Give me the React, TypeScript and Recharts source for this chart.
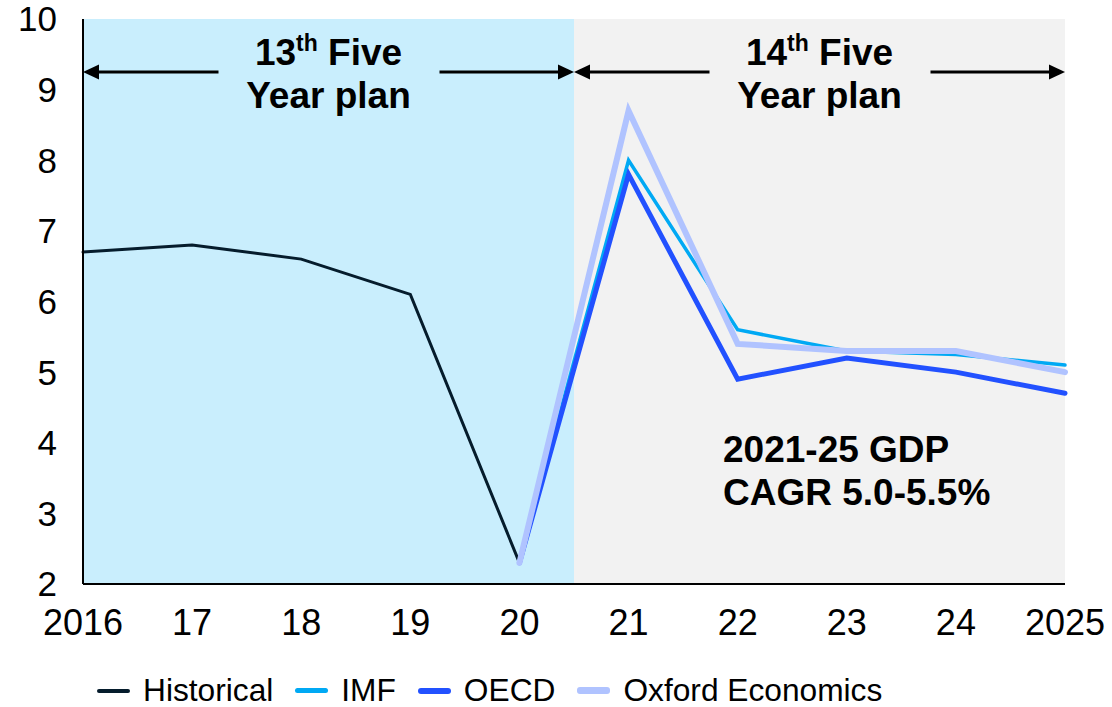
import React from 'react'
import { LineChart, Line, XAxis, YAxis, ReferenceArea, Legend } from 'recharts'

const FONT = '"Liberation Sans", Arial, sans-serif'

const years = [2016, 2017, 2018, 2019, 2020, 2021, 2022, 2023, 2024, 2025]
const yearLabels = ['2016', '17', '18', '19', '20', '21', '22', '23', '24', '2025']
const yTicks = [2, 3, 4, 5, 6, 7, 8, 9, 10]

// real GDP growth, %
const historical = [6.7, 6.8, 6.6, 6.1, 2.3, null, null, null, null, null]
const imf = [null, null, null, null, 2.3, 8.0, 5.6, 5.3, 5.25, 5.1]
const oecd = [null, null, null, null, 2.3, 7.8, 4.9, 5.2, 5.0, 4.7]
const oxford = [null, null, null, null, 2.3, 8.7, 5.4, 5.3, 5.3, 5.0]

// plan periods: 13th runs to mid-2020, 14th from there to 2025
const planBreak = 2020.5

const series = [
  { key: 'historical', name: 'Historical', color: '#051c2c', width: 3, swatch: 4 },
  { key: 'imf', name: 'IMF', color: '#00a9f4', width: 3.5, swatch: 5 },
  { key: 'oecd', name: 'OECD', color: '#2251ff', width: 5, swatch: 6 },
  { key: 'oxford', name: 'Oxford Economics', color: '#b0c3ff', width: 6, swatch: 7 },
]

const data = years.map((year, i) => ({
  year,
  historical: historical[i],
  imf: imf[i],
  oecd: oecd[i],
  oxford: oxford[i],
}))

function PlanLabel({ viewBox, ordinal, note }: any) {
  const { x, y, width } = viewBox
  const cx = x + width / 2
  const ay = y + 53
  const right = x + width
  const textProps = { fontFamily: FONT, fontWeight: 'bold', fontSize: 37, fill: '#000' }
  return (
    <g>
      <line x1={x + 12} y1={ay} x2={cx - 110} y2={ay} stroke="#000" strokeWidth={3} />
      <polygon points={`${x},${ay} ${x + 16},${ay - 7.5} ${x + 16},${ay + 7.5}`} fill="#000" />
      <line x1={cx + 111} y1={ay} x2={right - 12} y2={ay} stroke="#000" strokeWidth={3} />
      <polygon points={`${right},${ay} ${right - 16},${ay - 7.5} ${right - 16},${ay + 7.5}`} fill="#000" />
      <text x={cx} y={y + 46} textAnchor="middle" {...textProps}>
        <tspan>{ordinal}</tspan>
        <tspan fontSize={23} dy={-14}>th</tspan>
        <tspan dy={14}> Five</tspan>
      </text>
      <text x={cx} y={y + 89} textAnchor="middle" {...textProps}>Year plan</text>
      {note && note.map((line: string, i: number) => (
        <text key={line} x={x + 149} y={y + 443 + i * 43} textAnchor="start" {...textProps}>{line}</text>
      ))}
    </g>
  )
}

function SeriesLegend() {
  return (
    <div style={{ display: 'flex', alignItems: 'center', height: 63, boxSizing: 'border-box', paddingTop: 31, paddingLeft: 97 }}>
      {series.map((s) => (
        <div key={s.key} style={{ display: 'flex', alignItems: 'center', marginRight: 22 }}>
          <div style={{ width: 33, height: s.swatch, borderRadius: 3, background: s.color, marginRight: 13 }} />
          <span style={{ fontFamily: FONT, fontSize: 31.7, lineHeight: 1, color: '#000' }}>{s.name}</span>
        </div>
      ))}
    </div>
  )
}

export default function App() {
  return (
    <div style={{ position: 'absolute', top: 0, left: 0, width: 1112, height: 707, background: '#fff', fontFamily: FONT }}>
      <LineChart width={1112} height={707} data={data} margin={{ top: 19, right: 47, bottom: 0, left: 0 }}>
        <ReferenceArea
          x1={2016}
          x2={planBreak}
          y1={2}
          y2={10}
          fill="#c9eefd"
          fillOpacity={1}
          stroke="none"
          label={<PlanLabel ordinal="13" />}
        />
        <ReferenceArea
          x1={planBreak}
          x2={2025}
          y1={2}
          y2={10}
          fill="#f2f2f2"
          fillOpacity={1}
          stroke="none"
          label={<PlanLabel ordinal="14" note={['2021-25 GDP', 'CAGR 5.0-5.5%']} />}
        />
        <XAxis
          dataKey="year"
          type="number"
          domain={[2016, 2025]}
          ticks={years}
          tickFormatter={(v: number) => yearLabels[years.indexOf(v)]}
          height={60}
          tickLine={false}
          tickSize={0}
          tickMargin={25}
          axisLine={{ stroke: '#000', strokeWidth: 2 }}
          tick={{ fontSize: 36, fill: '#000', fontFamily: FONT }}
          interval={0}
        />
        <YAxis
          domain={[2, 10]}
          ticks={yTicks}
          width={83}
          tickLine={false}
          tickSize={0}
          tickMargin={26}
          axisLine={{ stroke: '#000', strokeWidth: 2 }}
          tick={{ fontSize: 35, fill: '#000', fontFamily: FONT }}
          interval={0}
        />
        <Legend
          verticalAlign="bottom"
          height={63}
          content={<SeriesLegend />}
          wrapperStyle={{ left: 0, bottom: 0, width: 1112, height: 63 }}
        />
        {series.map((s) => (
          <Line
            key={s.key}
            type="linear"
            dataKey={s.key}
            name={s.name}
            stroke={s.color}
            strokeWidth={s.width}
            strokeLinecap="round"
            dot={false}
            activeDot={false}
            isAnimationActive={false}
          />
        ))}
      </LineChart>
    </div>
  )
}
